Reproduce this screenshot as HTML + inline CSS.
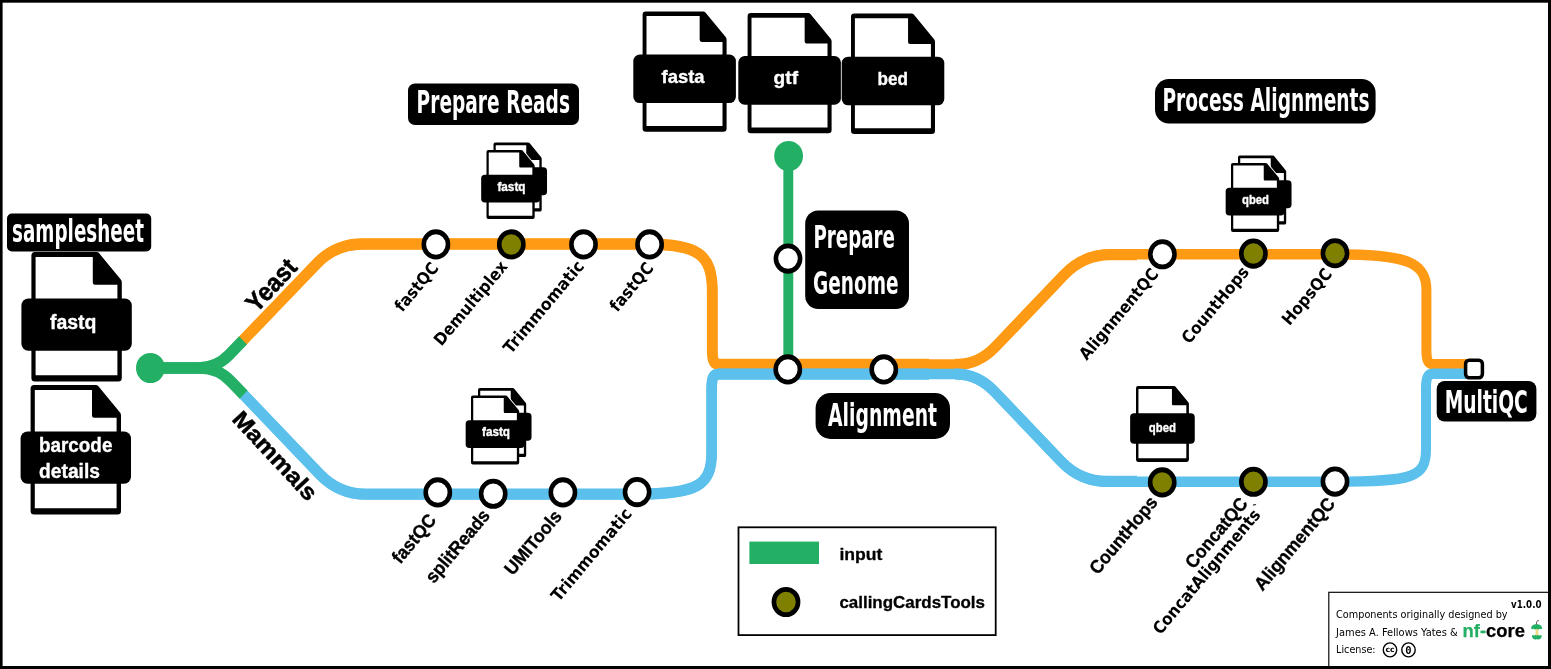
<!DOCTYPE html>
<html lang="en"><head><meta charset="utf-8"><title>callingcards metro map</title>
<style>html,body{margin:0;padding:0;background:#fff;overflow:hidden}svg{display:block;will-change:transform}</style></head><body>
<svg width="1551" height="669" viewBox="0 0 1551 669">
<rect x="0" y="0" width="1551" height="669" fill="#000"/>
<rect x="2.6" y="2.7" width="1545.4" height="663.3" fill="#fff"/>
<g transform="scale(1,1.045)">
<path d="M242.40,326.32 L316.38,252.56 C328.62,240.36 345.22,233.49 362.50,233.49 L646.30,233.49 C697.78,233.49 712.30,243.39 712.30,278.49 L712.30,334.71 C712.30,345.21 714.05,348.71 719.30,348.71 L957.60,348.71 C971.04,348.71 984.70,342.59 995.56,331.72 L1064.72,262.46 C1076.93,250.23 1093.52,243.35 1110.80,243.35 L1335.40,243.35 C1406.38,243.35 1426.40,250.83 1426.40,277.35 L1426.40,334.52 C1426.40,345.02 1428.15,348.52 1433.40,348.52 L1468.00,348.52" fill="none" stroke="#ff9a14" stroke-width="10.0" stroke-linejoin="round"/>
<path d="M242.40,326.32 L316.38,252.56 C328.62,240.36 345.22,233.49 362.50,233.49 L646.30,233.49 C697.78,233.49 712.30,243.39 712.30,278.49 L712.30,334.71 C712.30,345.21 714.05,348.71 719.30,348.71 L929.00,348.71" fill="none" stroke="#ff9a14" stroke-width="10.8" stroke-linejoin="round"/>
<path d="M955.00,348.71 L957.60,348.71 C971.04,348.71 984.70,342.59 995.56,331.72 L1064.32,262.84 C1076.53,250.61 1093.12,243.73 1110.40,243.73 L1137.00,243.73" fill="none" stroke="#ff9a14" stroke-width="10.7" stroke-linejoin="round"/>
<path d="M243.00,377.03 L319.72,453.82 C331.93,466.04 348.52,472.92 365.80,472.92 L637.05,472.92 C696.73,472.92 711.65,464.92 711.65,432.92 L711.65,371.99 C711.65,361.49 713.40,357.99 718.65,357.99 L956.80,357.99 C970.24,357.99 983.90,364.10 994.76,374.97 L1061.52,441.85 C1073.73,454.08 1090.32,460.96 1107.60,460.96 L1335.00,460.96 C1413.26,460.96 1426.00,456.62 1426.00,429.96 L1426.00,371.70 C1426.00,361.20 1427.75,357.70 1433.00,357.70 L1468.00,357.70" fill="none" stroke="#5bc0eb" stroke-width="10.0" stroke-linejoin="round"/>
<path d="M243.00,377.03 L319.72,453.82 C331.93,466.04 348.52,472.92 365.80,472.92 L637.05,472.92 C696.73,472.92 711.65,464.92 711.65,432.92 L711.65,371.99 C711.65,361.49 713.40,357.99 718.65,357.99 L929.00,357.99" fill="none" stroke="#5bc0eb" stroke-width="10.8" stroke-linejoin="round"/>
<path d="M955.00,357.99 L956.80,357.99 C970.24,357.99 983.90,364.11 994.76,374.98 L1061.13,441.47 C1073.33,453.69 1089.92,460.57 1107.20,460.57 L1137.00,460.57" fill="none" stroke="#5bc0eb" stroke-width="10.7" stroke-linejoin="round"/>
<path d="M150.00,352.15 L198.60,352.15 C210.12,352.15 221.18,347.57 229.33,339.42 L243.00,325.74" fill="none" stroke="#24b064" stroke-width="11.2" stroke-linejoin="round"/>
<path d="M150.00,352.15 L200.10,352.15 C211.62,352.15 222.69,356.73 230.84,364.87 L243.60,377.61" fill="none" stroke="#24b064" stroke-width="11.2" stroke-linejoin="round"/>
<circle cx="150.4" cy="352.15" r="14.4" fill="#24b064"/>
<path d="M788.3,149.28 V346.41" fill="none" stroke="#24b064" stroke-width="9.9" stroke-linejoin="round"/>
<circle cx="788.6" cy="149.28" r="14.4" fill="#24b064"/>
<circle cx="435.90" cy="233.88" r="12.1" fill="#fff" stroke="#000" stroke-width="4.6"/>
<circle cx="583.50" cy="233.88" r="12.1" fill="#fff" stroke="#000" stroke-width="4.6"/>
<circle cx="649.60" cy="233.88" r="12.1" fill="#fff" stroke="#000" stroke-width="4.6"/>
<circle cx="511.30" cy="233.88" r="12.1" fill="#808000" stroke="#000" stroke-width="4.6"/>
<circle cx="437.80" cy="471.20" r="12.1" fill="#fff" stroke="#000" stroke-width="4.6"/>
<circle cx="493.20" cy="472.54" r="12.1" fill="#fff" stroke="#000" stroke-width="4.6"/>
<circle cx="562.90" cy="471.20" r="12.1" fill="#fff" stroke="#000" stroke-width="4.6"/>
<circle cx="637.10" cy="470.91" r="12.1" fill="#fff" stroke="#000" stroke-width="4.6"/>
<circle cx="788.00" cy="247.46" r="12.1" fill="#fff" stroke="#000" stroke-width="4.6"/>
<circle cx="787.80" cy="353.49" r="12.1" fill="#fff" stroke="#000" stroke-width="4.6"/>
<circle cx="883.80" cy="353.49" r="12.1" fill="#fff" stroke="#000" stroke-width="4.6"/>
<circle cx="1162.40" cy="243.35" r="12.1" fill="#fff" stroke="#000" stroke-width="4.6"/>
<circle cx="1253.40" cy="242.68" r="12.1" fill="#808000" stroke="#000" stroke-width="4.6"/>
<circle cx="1335.00" cy="242.30" r="12.1" fill="#808000" stroke="#000" stroke-width="4.6"/>
<circle cx="1162.20" cy="461.63" r="12.1" fill="#808000" stroke="#000" stroke-width="4.6"/>
<circle cx="1253.40" cy="461.05" r="12.1" fill="#808000" stroke="#000" stroke-width="4.6"/>
<circle cx="1335.00" cy="460.86" r="12.1" fill="#fff" stroke="#000" stroke-width="4.6"/>
<circle cx="786.00" cy="576.08" r="12.1" fill="#808000" stroke="#000" stroke-width="4.6"/>
</g>
<rect x="1465.6" y="360.3" width="16.8" height="17.4" rx="3.6" ry="3.6" fill="#fff" stroke="#000" stroke-width="3.5"/>
<rect x="7" y="213.6" width="144.20" height="37.90" rx="5" ry="5" fill="#000"/>
<text x="12.00" y="242.40" font-family="'DejaVu Sans', sans-serif" font-weight="bold" font-size="32" fill="#fff" text-anchor="start" textLength="132.00" lengthAdjust="spacingAndGlyphs">samplesheet</text>
<rect x="408" y="83.4" width="171.00" height="41.60" rx="7" ry="7" fill="#000"/>
<text x="416.60" y="113.00" font-family="'DejaVu Sans', sans-serif" font-weight="bold" font-size="32" fill="#fff" text-anchor="start" textLength="153.40" lengthAdjust="spacingAndGlyphs">Prepare Reads</text>
<rect x="1155" y="79" width="220.60" height="44.60" rx="14" ry="14" fill="#000"/>
<text x="1162.40" y="111.40" font-family="'DejaVu Sans', sans-serif" font-weight="bold" font-size="32" fill="#fff" text-anchor="start" textLength="207.20" lengthAdjust="spacingAndGlyphs">Process Alignments</text>
<rect x="805.2" y="210.4" width="103.80" height="98.60" rx="13" ry="13" fill="#000"/>
<text x="813.40" y="248.00" font-family="'DejaVu Sans', sans-serif" font-weight="bold" font-size="32" fill="#fff" text-anchor="start" textLength="81.60" lengthAdjust="spacingAndGlyphs">Prepare</text>
<text x="813.00" y="294.00" font-family="'DejaVu Sans', sans-serif" font-weight="bold" font-size="32" fill="#fff" text-anchor="start" textLength="85.60" lengthAdjust="spacingAndGlyphs">Genome</text>
<rect x="815.6" y="393" width="134.40" height="46.00" rx="15" ry="15" fill="#000"/>
<text x="828.00" y="425.80" font-family="'DejaVu Sans', sans-serif" font-weight="bold" font-size="32" fill="#fff" text-anchor="start" textLength="109.00" lengthAdjust="spacingAndGlyphs">Alignment</text>
<rect x="1436.7" y="381" width="99.70" height="40.50" rx="8" ry="8" fill="#000"/>
<text x="1444.70" y="413.00" font-family="'DejaVu Sans', sans-serif" font-weight="bold" font-size="32" fill="#fff" text-anchor="start" textLength="83.10" lengthAdjust="spacingAndGlyphs">MultiQC</text>
<g transform="translate(31.40,252.00) scale(1.0000)"><path d="M3.5,0 H65.2 Q66.6,0 67.6,1.1 L89.4,27.6 Q90.4,28.8 90.4,30.4 V126 Q90.4,129.5 86.9,129.5 H3.5 Q0,129.5 0,126 V3.5 Q0,0 3.5,0 Z" fill="#000"/><path d="M4.2,5 H61.4 V30.6 Q61.4,32.8 63.6,32.8 H86 V123.3 H4.2 Z" fill="#fff"/><rect x="-10" y="46.4" width="110.4" height="52.3" rx="7" ry="7" fill="#000"/></g>
<text x="50.00" y="329.00" font-family="'Liberation Sans', sans-serif" font-weight="bold" font-size="20" fill="#fff" text-anchor="start" textLength="46.50" lengthAdjust="spacingAndGlyphs" stroke="#fff" stroke-width="0.35" stroke-linejoin="round">fastq</text>
<g transform="translate(30.60,385.00) scale(1.0000)"><path d="M3.5,0 H65.2 Q66.6,0 67.6,1.1 L89.4,27.6 Q90.4,28.8 90.4,30.4 V126 Q90.4,129.5 86.9,129.5 H3.5 Q0,129.5 0,126 V3.5 Q0,0 3.5,0 Z" fill="#000"/><path d="M4.2,5 H61.4 V30.6 Q61.4,32.8 63.6,32.8 H86 V123.3 H4.2 Z" fill="#fff"/><rect x="-10" y="46.4" width="110.4" height="52.3" rx="7" ry="7" fill="#000"/></g>
<text x="39.00" y="452.30" font-family="'Liberation Sans', sans-serif" font-weight="bold" font-size="20" fill="#fff" text-anchor="start" textLength="73.40" lengthAdjust="spacingAndGlyphs" stroke="#fff" stroke-width="0.35" stroke-linejoin="round">barcode</text>
<text x="39.00" y="477.70" font-family="'Liberation Sans', sans-serif" font-weight="bold" font-size="20" fill="#fff" text-anchor="start" textLength="61.00" lengthAdjust="spacingAndGlyphs" stroke="#fff" stroke-width="0.35" stroke-linejoin="round">details</text>
<g transform="translate(642.60,11.40) scale(0.9292)"><path d="M3.5,0 H65.2 Q66.6,0 67.6,1.1 L89.4,27.6 Q90.4,28.8 90.4,30.4 V126 Q90.4,129.5 86.9,129.5 H3.5 Q0,129.5 0,126 V3.5 Q0,0 3.5,0 Z" fill="#000"/><path d="M4.2,5 H61.4 V30.6 Q61.4,32.8 63.6,32.8 H86 V123.3 H4.2 Z" fill="#fff"/><rect x="-10" y="46.4" width="110.4" height="52.3" rx="7" ry="7" fill="#000"/></g>
<text x="661.60" y="82.50" font-family="'Liberation Sans', sans-serif" font-weight="bold" font-size="19" fill="#fff" text-anchor="start" textLength="43.00" lengthAdjust="spacingAndGlyphs" stroke="#fff" stroke-width="0.35" stroke-linejoin="round">fasta</text>
<g transform="translate(747.60,13.00) scale(0.9292)"><path d="M3.5,0 H65.2 Q66.6,0 67.6,1.1 L89.4,27.6 Q90.4,28.8 90.4,30.4 V126 Q90.4,129.5 86.9,129.5 H3.5 Q0,129.5 0,126 V3.5 Q0,0 3.5,0 Z" fill="#000"/><path d="M4.2,5 H61.4 V30.6 Q61.4,32.8 63.6,32.8 H86 V123.3 H4.2 Z" fill="#fff"/><rect x="-10" y="46.4" width="110.4" height="52.3" rx="7" ry="7" fill="#000"/></g>
<text x="773.60" y="84.00" font-family="'Liberation Sans', sans-serif" font-weight="bold" font-size="19" fill="#fff" text-anchor="start" textLength="24.40" lengthAdjust="spacingAndGlyphs" stroke="#fff" stroke-width="0.35" stroke-linejoin="round">gtf</text>
<g transform="translate(851.00,13.60) scale(0.9292)"><path d="M3.5,0 H65.2 Q66.6,0 67.6,1.1 L89.4,27.6 Q90.4,28.8 90.4,30.4 V126 Q90.4,129.5 86.9,129.5 H3.5 Q0,129.5 0,126 V3.5 Q0,0 3.5,0 Z" fill="#000"/><path d="M4.2,5 H61.4 V30.6 Q61.4,32.8 63.6,32.8 H86 V123.3 H4.2 Z" fill="#fff"/><rect x="-10" y="46.4" width="110.4" height="52.3" rx="7" ry="7" fill="#000"/></g>
<text x="877.60" y="85.00" font-family="'Liberation Sans', sans-serif" font-weight="bold" font-size="19" fill="#fff" text-anchor="start" textLength="30.40" lengthAdjust="spacingAndGlyphs" stroke="#fff" stroke-width="0.35" stroke-linejoin="round">bed</text>
<g transform="translate(493.50,142.50) scale(0.5332)"><path d="M3.5,0 H65.2 Q66.6,0 67.6,1.1 L89.4,27.6 Q90.4,28.8 90.4,30.4 V126 Q90.4,129.5 86.9,129.5 H3.5 Q0,129.5 0,126 V3.5 Q0,0 3.5,0 Z" fill="#000"/><path d="M4.2,5 H61.4 V30.6 Q61.4,32.8 63.6,32.8 H86 V123.3 H4.2 Z" fill="#fff"/><rect x="-10" y="46.4" width="110.4" height="52.3" rx="7" ry="7" fill="#000"/></g>
<g transform="translate(486.50,149.90) scale(0.5332)"><path d="M66.4,-0.4 L90.8,29.2" fill="none" stroke="#fff" stroke-width="3.4" stroke-linecap="butt"/><path d="M3.5,0 H65.2 Q66.6,0 67.6,1.1 L89.4,27.6 Q90.4,28.8 90.4,30.4 V126 Q90.4,129.5 86.9,129.5 H3.5 Q0,129.5 0,126 V3.5 Q0,0 3.5,0 Z" fill="#000"/><path d="M4.2,5 H61.4 V30.6 Q61.4,32.8 63.6,32.8 H86 V123.3 H4.2 Z" fill="#fff"/><rect x="-10" y="46.4" width="110.4" height="52.3" rx="7" ry="7" fill="#000"/></g>
<text x="497.40" y="191.00" font-family="'Liberation Sans', sans-serif" font-weight="bold" font-size="12" fill="#fff" text-anchor="start" textLength="28.10" lengthAdjust="spacingAndGlyphs" stroke="#fff" stroke-width="0.35" stroke-linejoin="round">fastq</text>
<g transform="translate(478.00,388.00) scale(0.5332)"><path d="M3.5,0 H65.2 Q66.6,0 67.6,1.1 L89.4,27.6 Q90.4,28.8 90.4,30.4 V126 Q90.4,129.5 86.9,129.5 H3.5 Q0,129.5 0,126 V3.5 Q0,0 3.5,0 Z" fill="#000"/><path d="M4.2,5 H61.4 V30.6 Q61.4,32.8 63.6,32.8 H86 V123.3 H4.2 Z" fill="#fff"/><rect x="-10" y="46.4" width="110.4" height="52.3" rx="7" ry="7" fill="#000"/></g>
<g transform="translate(471.00,395.40) scale(0.5332)"><path d="M66.4,-0.4 L90.8,29.2" fill="none" stroke="#fff" stroke-width="3.4" stroke-linecap="butt"/><path d="M3.5,0 H65.2 Q66.6,0 67.6,1.1 L89.4,27.6 Q90.4,28.8 90.4,30.4 V126 Q90.4,129.5 86.9,129.5 H3.5 Q0,129.5 0,126 V3.5 Q0,0 3.5,0 Z" fill="#000"/><path d="M4.2,5 H61.4 V30.6 Q61.4,32.8 63.6,32.8 H86 V123.3 H4.2 Z" fill="#fff"/><rect x="-10" y="46.4" width="110.4" height="52.3" rx="7" ry="7" fill="#000"/></g>
<text x="482.00" y="436.20" font-family="'Liberation Sans', sans-serif" font-weight="bold" font-size="12" fill="#fff" text-anchor="start" textLength="28.00" lengthAdjust="spacingAndGlyphs" stroke="#fff" stroke-width="0.35" stroke-linejoin="round">fastq</text>
<g transform="translate(1238.00,155.50) scale(0.5332)"><path d="M3.5,0 H65.2 Q66.6,0 67.6,1.1 L89.4,27.6 Q90.4,28.8 90.4,30.4 V126 Q90.4,129.5 86.9,129.5 H3.5 Q0,129.5 0,126 V3.5 Q0,0 3.5,0 Z" fill="#000"/><path d="M4.2,5 H61.4 V30.6 Q61.4,32.8 63.6,32.8 H86 V123.3 H4.2 Z" fill="#fff"/><rect x="-10" y="46.4" width="110.4" height="52.3" rx="7" ry="7" fill="#000"/></g>
<g transform="translate(1231.00,162.90) scale(0.5332)"><path d="M66.4,-0.4 L90.8,29.2" fill="none" stroke="#fff" stroke-width="3.4" stroke-linecap="butt"/><path d="M3.5,0 H65.2 Q66.6,0 67.6,1.1 L89.4,27.6 Q90.4,28.8 90.4,30.4 V126 Q90.4,129.5 86.9,129.5 H3.5 Q0,129.5 0,126 V3.5 Q0,0 3.5,0 Z" fill="#000"/><path d="M4.2,5 H61.4 V30.6 Q61.4,32.8 63.6,32.8 H86 V123.3 H4.2 Z" fill="#fff"/><rect x="-10" y="46.4" width="110.4" height="52.3" rx="7" ry="7" fill="#000"/></g>
<text x="1242.00" y="203.60" font-family="'Liberation Sans', sans-serif" font-weight="bold" font-size="12" fill="#fff" text-anchor="start" textLength="27.00" lengthAdjust="spacingAndGlyphs" stroke="#fff" stroke-width="0.35" stroke-linejoin="round">qbed</text>
<g transform="translate(1136.00,386.10) scale(0.5852)"><path d="M3.5,0 H65.2 Q66.6,0 67.6,1.1 L89.4,27.6 Q90.4,28.8 90.4,30.4 V126 Q90.4,129.5 86.9,129.5 H3.5 Q0,129.5 0,126 V3.5 Q0,0 3.5,0 Z" fill="#000"/><path d="M4.2,5 H61.4 V30.6 Q61.4,32.8 63.6,32.8 H86 V123.3 H4.2 Z" fill="#fff"/><rect x="-10" y="46.4" width="110.4" height="52.3" rx="7" ry="7" fill="#000"/></g>
<text x="1148.80" y="432.20" font-family="'Liberation Sans', sans-serif" font-weight="bold" font-size="13" fill="#fff" text-anchor="start" textLength="27.20" lengthAdjust="spacingAndGlyphs" stroke="#fff" stroke-width="0.35" stroke-linejoin="round">qbed</text>
<text x="0" y="0" transform="translate(439.40,268.50) rotate(-50)" font-family="'DejaVu Sans', sans-serif" font-weight="bold" font-size="16.7" fill="#000" text-anchor="end" textLength="57.64" lengthAdjust="spacingAndGlyphs">fastQC</text>
<text x="0" y="0" transform="translate(508.40,267.00) rotate(-50)" font-family="'DejaVu Sans', sans-serif" font-weight="bold" font-size="16.7" fill="#000" text-anchor="end" textLength="104.15" lengthAdjust="spacingAndGlyphs">Demultiplex</text>
<text x="0" y="0" transform="translate(584.90,266.50) rotate(-50)" font-family="'DejaVu Sans', sans-serif" font-weight="bold" font-size="16.7" fill="#000" text-anchor="end" textLength="115.12" lengthAdjust="spacingAndGlyphs">Trimmomatic</text>
<text x="0" y="0" transform="translate(654.40,268.50) rotate(-50)" font-family="'DejaVu Sans', sans-serif" font-weight="bold" font-size="16.7" fill="#000" text-anchor="end" textLength="57.64" lengthAdjust="spacingAndGlyphs">fastQC</text>
<text x="0" y="0" transform="translate(437.20,520.60) rotate(-50)" font-family="'Liberation Sans', sans-serif" font-weight="bold" font-size="18.5" fill="#000" text-anchor="end" textLength="57.67" lengthAdjust="spacingAndGlyphs" stroke="#000" stroke-width="0.35" stroke-linejoin="round">fastQC</text>
<text x="0" y="0" transform="translate(490.90,516.10) rotate(-50)" font-family="'Liberation Sans', sans-serif" font-weight="bold" font-size="18.5" fill="#000" text-anchor="end" textLength="88.98" lengthAdjust="spacingAndGlyphs" stroke="#000" stroke-width="0.35" stroke-linejoin="round">splitReads</text>
<text x="0" y="0" transform="translate(562.80,516.70) rotate(-50)" font-family="'Liberation Sans', sans-serif" font-weight="bold" font-size="18.5" fill="#000" text-anchor="end" textLength="77.86" lengthAdjust="spacingAndGlyphs" stroke="#000" stroke-width="0.35" stroke-linejoin="round">UMITools</text>
<text x="0" y="0" transform="translate(632.80,514.20) rotate(-50)" font-family="'DejaVu Sans', sans-serif" font-weight="bold" font-size="16.7" fill="#000" text-anchor="end" textLength="115.12" lengthAdjust="spacingAndGlyphs">Trimmomatic</text>
<text x="0" y="0" transform="translate(1159.40,274.50) rotate(-50)" font-family="'DejaVu Sans', sans-serif" font-weight="bold" font-size="16.7" fill="#000" text-anchor="end" textLength="112.94" lengthAdjust="spacingAndGlyphs">AlignmentQC</text>
<text x="0" y="0" transform="translate(1249.90,272.50) rotate(-50)" font-family="'DejaVu Sans', sans-serif" font-weight="bold" font-size="16.7" fill="#000" text-anchor="end" textLength="94.22" lengthAdjust="spacingAndGlyphs">CountHops</text>
<text x="0" y="0" transform="translate(1332.90,274.50) rotate(-50)" font-family="'DejaVu Sans', sans-serif" font-weight="bold" font-size="16.7" fill="#000" text-anchor="end" textLength="67.61" lengthAdjust="spacingAndGlyphs">HopsQC</text>
<text x="0" y="0" transform="translate(1158.60,502.80) rotate(-50)" font-family="'Liberation Sans', sans-serif" font-weight="bold" font-size="18.5" fill="#000" text-anchor="end" textLength="94.78" lengthAdjust="spacingAndGlyphs" stroke="#000" stroke-width="0.35" stroke-linejoin="round">CountHops</text>
<text x="0" y="0" transform="translate(1248.70,503.90) rotate(-50)" font-family="'Liberation Sans', sans-serif" font-weight="bold" font-size="18.5" fill="#000" text-anchor="end" textLength="86.02" lengthAdjust="spacingAndGlyphs" stroke="#000" stroke-width="0.35" stroke-linejoin="round">ConcatQC</text>
<text x="0" y="0" transform="translate(1261.40,515.20) rotate(-50)" font-family="'DejaVu Sans', sans-serif" font-weight="bold" font-size="16.7" fill="#000" text-anchor="end" textLength="157.15" lengthAdjust="spacingAndGlyphs">ConcatAlignments</text>
<text x="0" y="0" transform="translate(1259.50,512.00) rotate(-50)" font-family="'DejaVu Sans', sans-serif" font-weight="bold" font-size="12" fill="#000" text-anchor="start">`</text>
<text x="0" y="0" transform="translate(1336.00,504.00) rotate(-50)" font-family="'Liberation Sans', sans-serif" font-weight="bold" font-size="18.5" fill="#000" text-anchor="end" textLength="114.41" lengthAdjust="spacingAndGlyphs" stroke="#000" stroke-width="0.35" stroke-linejoin="round">AlignmentQC</text>
<text x="0" y="0" transform="translate(298.50,268.50) rotate(-47)" font-family="'Liberation Sans', sans-serif" font-weight="bold" font-size="25.5" fill="#000" text-anchor="end" textLength="61.64" lengthAdjust="spacingAndGlyphs" stroke="#000" stroke-width="0.6" stroke-linejoin="round">Yeast</text>
<text x="0" y="0" transform="translate(231.00,420.00) rotate(47)" font-family="'Liberation Sans', sans-serif" font-weight="bold" font-size="23" fill="#000" text-anchor="start" textLength="112.38" lengthAdjust="spacingAndGlyphs" stroke="#000" stroke-width="0.5" stroke-linejoin="round">Mammals</text>
<rect x="738.5" y="527.3" width="257.2" height="107.8" fill="none" stroke="#000" stroke-width="1.8"/>
<rect x="749.4" y="541.6" width="69.6" height="22.4" fill="#24b064"/>
<text x="839.40" y="560.00" font-family="'Liberation Sans', sans-serif" font-weight="bold" font-size="16.8" fill="#000" text-anchor="start" textLength="43.00" lengthAdjust="spacingAndGlyphs" stroke="#000" stroke-width="0.3" stroke-linejoin="round">input</text>
<text x="839.40" y="608.00" font-family="'Liberation Sans', sans-serif" font-weight="bold" font-size="16.8" fill="#000" text-anchor="start" textLength="145.60" lengthAdjust="spacingAndGlyphs" stroke="#000" stroke-width="0.3" stroke-linejoin="round">callingCardsTools</text>
<rect x="1328.8" y="592.3" width="225" height="80" fill="#fff" stroke="#000" stroke-width="1.15"/>
<rect x="1548" y="590" width="3" height="79" fill="#000"/><rect x="1327" y="666" width="224" height="3" fill="#000"/>
<text x="1511.10" y="608.30" font-family="'DejaVu Sans', sans-serif" font-weight="bold" font-size="9.6" fill="#000" text-anchor="start" textLength="30.40" lengthAdjust="spacingAndGlyphs">v1.0.0</text>
<text x="1336.10" y="617.70" font-family="'DejaVu Sans', sans-serif" font-weight="normal" font-size="10" fill="#000" text-anchor="start" textLength="171.50" lengthAdjust="spacingAndGlyphs">Components originally designed by</text>
<text x="1336.10" y="635.50" font-family="'DejaVu Sans', sans-serif" font-weight="normal" font-size="10" fill="#000" text-anchor="start" textLength="121.60" lengthAdjust="spacingAndGlyphs">James A. Fellows Yates &amp;</text>
<text x="1336.10" y="653.00" font-family="'DejaVu Sans', sans-serif" font-weight="normal" font-size="10" fill="#000" text-anchor="start" textLength="39.50" lengthAdjust="spacingAndGlyphs">License:</text>
<text x="1462.6" y="636.8" font-family="'Liberation Sans', sans-serif" font-weight="bold" font-size="17.8" textLength="62.3" lengthAdjust="spacingAndGlyphs" stroke-width="0.25" stroke-linejoin="round"><tspan fill="#24b064" stroke="#24b064">nf-</tspan><tspan fill="#000" stroke="#000">core</tspan></text>
<ellipse cx="1390" cy="649.9" rx="6.7" ry="7.0" fill="#fff" stroke="#000" stroke-width="1.4"/>
<ellipse cx="1408.5" cy="649.9" rx="6.7" ry="7.0" fill="#fff" stroke="#000" stroke-width="1.4"/>
<text x="1390.00" y="652.00" font-family="'DejaVu Sans', sans-serif" font-weight="bold" font-size="7.8" fill="#000" text-anchor="middle">cc</text>
<text x="1408.50" y="653.70" font-family="'DejaVu Sans Mono', sans-serif" font-weight="bold" font-size="10.5" fill="#000" text-anchor="middle">0</text>
<path d="M1535.4,628.4 L1538.5,628.4 Q1537.9,632 1538.6,635.8 L1535.2,635.8 Q1536,632 1535.4,628.4 Z" fill="#ecdc86"/>
<path d="M1531.1,628.6 C1531.1,625.6 1533.6,624.2 1536.6,624.2 C1539.6,624.2 1542.2,625.6 1542.2,628.6 Q1541,629.8 1539.8,628.8 Q1538.2,630 1536.6,628.8 Q1535,630 1533.4,628.8 Q1532.2,629.8 1531.1,628.6 Z" fill="#24b064"/>
<path d="M1531.9,635.6 Q1533,634.6 1534.2,635.5 Q1535.6,634.5 1536.8,635.5 Q1538.2,634.5 1539.6,635.5 Q1540.8,634.6 1541.8,635.6 C1541.8,638 1540,639.6 1538.4,639.6 Q1536.8,638.8 1535.2,639.6 C1533.6,639.6 1531.9,638 1531.9,635.6 Z" fill="#24b064"/>
<path d="M1536.4,624.6 Q1536.2,621.6 1537.6,620.6 Q1538.4,620.2 1538.9,620.9" stroke="#4a3030" stroke-width="0.8" fill="none"/>
</svg></body></html>
